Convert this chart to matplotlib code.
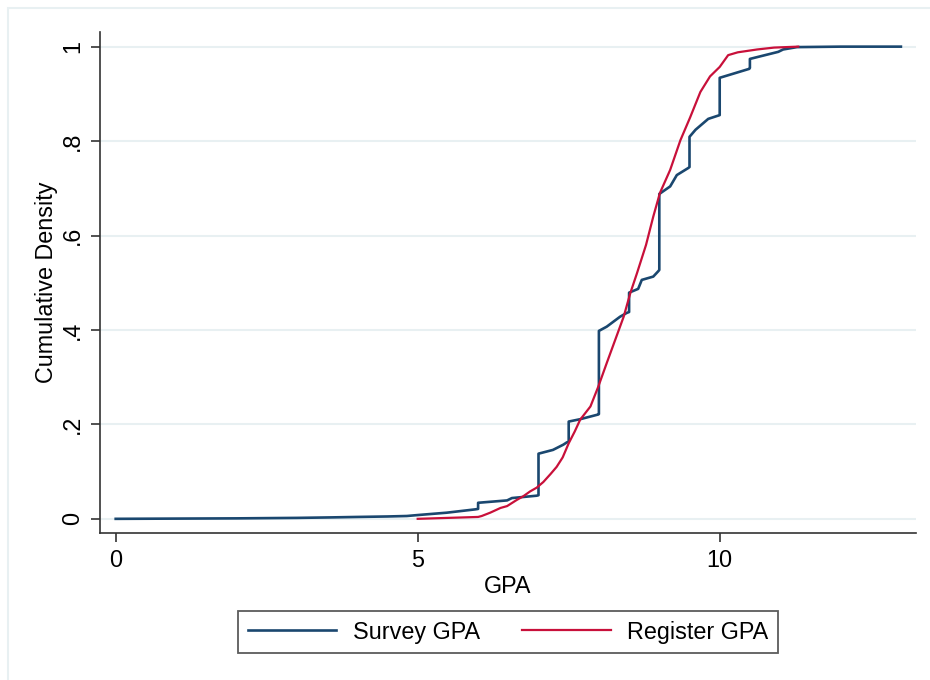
import matplotlib
matplotlib.use("Agg")
import matplotlib.pyplot as plt
from matplotlib.patches import Rectangle

# survey GPA: empirical CDF, steps drawn as repeated x values
survey_x = [0.0, 1.0, 2.0, 3.0, 3.55, 4.0, 4.5, 4.82, 5.0, 5.48, 5.95, 6.0, 6.0,
            6.48, 6.56, 6.97, 7.0, 7.0, 7.24, 7.41, 7.47, 7.5, 7.5, 7.69, 7.99,
            8.0, 8.0, 8.13, 8.35, 8.46, 8.5, 8.5, 8.65, 8.71, 8.90, 8.98, 9.0,
            9.0, 9.18, 9.29, 9.48, 9.5, 9.5, 9.6, 9.81, 10.0, 10.0, 10.49, 10.5,
            10.5, 10.97, 11.05, 11.28, 12.0, 13.0]
survey_y = [0.0, 0.0005, 0.001, 0.002, 0.003, 0.004, 0.005, 0.006, 0.008, 0.013,
            0.020, 0.021, 0.034, 0.039, 0.044, 0.049, 0.050, 0.138, 0.146, 0.157,
            0.162, 0.163, 0.206, 0.211, 0.221, 0.222, 0.398, 0.407, 0.428, 0.436,
            0.438, 0.479, 0.487, 0.506, 0.513, 0.524, 0.527, 0.688, 0.704, 0.728,
            0.743, 0.745, 0.809, 0.824, 0.847, 0.855, 0.934, 0.953, 0.955, 0.974,
            0.989, 0.994, 0.999, 1.0, 1.0]

# register GPA
register_x = [5.0, 5.5, 6.0, 6.06, 6.2, 6.37, 6.48, 6.64, 6.75, 6.86, 6.97, 7.08,
              7.2, 7.3, 7.4, 7.5, 7.6, 7.69, 7.86, 7.99, 8.13, 8.27, 8.41, 8.52,
              8.63, 8.78, 8.9, 9.01, 9.18, 9.35, 9.51, 9.68, 9.84, 10.0, 10.14,
              10.3, 10.62, 10.9, 11.3]
register_y = [0.0, 0.002, 0.004, 0.006, 0.013, 0.023, 0.027, 0.040, 0.048, 0.058,
              0.066, 0.078, 0.095, 0.110, 0.130, 0.160, 0.185, 0.210, 0.238, 0.280,
              0.330, 0.379, 0.428, 0.478, 0.520, 0.580, 0.640, 0.690, 0.739, 0.802,
              0.850, 0.904, 0.937, 0.957, 0.982, 0.988, 0.994, 0.998, 1.0]

x_ticks = [0, 5, 10]
y_ticks = [0, 0.2, 0.4, 0.6, 0.8, 1.0]
y_tick_labels = ["0", ".2", ".4", ".6", ".8", "1"]

NAVY = "#1a476f"
RED = "#c8103a"
DARK = "#333333"
GRID = "#e8f0f2"
FS = 16.8

plt.rcParams["font.family"] = ["Liberation Sans", "DejaVu Sans"]

fig = plt.figure(figsize=(9.3, 6.8), dpi=100)
fig.patch.set_facecolor("white")
# light outer frame (Stata-style graph region)
fig.patches.append(Rectangle((8 / 930, -0.1), 1.2, 1.1 - 8 / 680,
                             transform=fig.transFigure, fill=False,
                             edgecolor=GRID, linewidth=1.5))

ax = fig.add_axes([100 / 930, 1 - 533 / 680, 816 / 930, 501 / 680])
ax.plot(survey_x, survey_y, color=NAVY, linewidth=1.9, label="Survey GPA", zorder=3)
ax.plot(register_x, register_y, color=RED, linewidth=1.6, label="Register GPA", zorder=4)

ax.set_xlim(-0.26, 13.25)
ax.set_ylim(-0.03, 1.031)
ax.set_xticks(x_ticks)
ax.set_yticks(y_ticks)
ax.set_yticklabels(y_tick_labels, rotation=90, va="center")
ax.tick_params(axis="both", labelsize=FS, length=6.5, width=1.2, color=DARK, pad=5)
ax.grid(True, axis="y", color=GRID, linewidth=1.5, zorder=0)
ax.set_axisbelow(True)
for side in ["top", "right"]:
    ax.spines[side].set_visible(False)
for side in ["left", "bottom"]:
    ax.spines[side].set_color(DARK)
    ax.spines[side].set_linewidth(1.2)

ax.set_xlabel("GPA", fontsize=FS, labelpad=2)
ax.set_ylabel("Cumulative Density", fontsize=FS, labelpad=2)

leg = fig.legend(loc="center", bbox_to_anchor=(508 / 930, 1 - 632 / 680), ncol=2,
                 fontsize=FS, frameon=True, fancybox=False, handlelength=3.8,
                 handletextpad=0.7, columnspacing=1.8, borderpad=0.4)
leg.get_frame().set_edgecolor(DARK)
leg.get_frame().set_linewidth(1.3)

fig.savefig("out.png", dpi=100, facecolor="white")
